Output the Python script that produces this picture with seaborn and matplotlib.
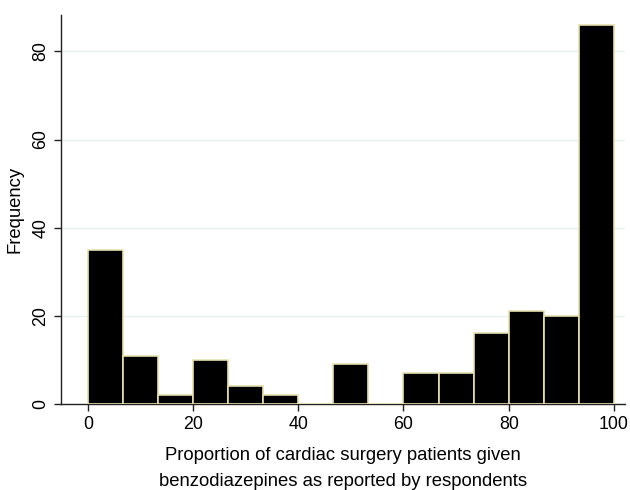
import numpy as np
import pandas as pd
import matplotlib
matplotlib.use("Agg")
import matplotlib.pyplot as plt
import seaborn as sns

# Histogram counts (15 bins from 0 to 100)
bin_counts = [35, 11, 2, 10, 4, 2, 0, 9, 0, 7, 7, 16, 21, 20, 86]
x_range = (0, 100)
x_ticks = [0, 20, 40, 60, 80, 100]
y_ticks = [0, 20, 40, 60, 80]
x_label = "Proportion of cardiac surgery patients given\nbenzodiazepines as reported by respondents"
y_label = "Frequency"

n_bins = len(bin_counts)
bin_edges = np.linspace(x_range[0], x_range[1], n_bins + 1)
df = pd.DataFrame({
    "proportion": (bin_edges[:-1] + bin_edges[1:]) / 2,
    "count": bin_counts,
})

sns.set_style("white")
plt.rcParams["font.family"] = ["Liberation Sans", "DejaVu Sans"]
plt.rcParams["text.color"] = "black"
plt.rcParams["axes.labelcolor"] = "black"
plt.rcParams["xtick.color"] = "black"
plt.rcParams["ytick.color"] = "black"

fig = plt.figure(figsize=(6.3, 4.9), dpi=100)
ax = fig.add_axes([0.0968, 0.1755, 0.8952, 0.7935])

sns.histplot(data=df, x="proportion", weights="count", bins=n_bins, binrange=x_range,
             ax=ax, color="black", edgecolor="#e6dfb0", linewidth=1.2, alpha=1, zorder=3)

ax.set_xlim(-5.1, 102.1)
ax.set_ylim(0, 88.2)
ax.set_xticks(x_ticks)
ax.set_yticks(y_ticks)
ax.grid(axis="y", color="#e8f0f2", linewidth=1, zorder=0)
ax.grid(axis="x", visible=False)
ax.set_axisbelow(True)
for side in ["top", "right"]:
    ax.spines[side].set_visible(False)
for side in ["left", "bottom"]:
    ax.spines[side].set_color("#222222")
    ax.spines[side].set_linewidth(1)
ax.tick_params(axis="both", direction="out", length=5, width=1, color="#222222",
               labelsize=12.8, bottom=True, left=True)
for lbl in ax.get_yticklabels():
    lbl.set_rotation(90)
    lbl.set_va("center")
ax.set_xlabel(x_label, fontsize=13.3, linespacing=1.75, labelpad=10)
ax.set_ylabel(y_label, fontsize=13.3, labelpad=6)

fig.savefig("out.png", dpi=100)
